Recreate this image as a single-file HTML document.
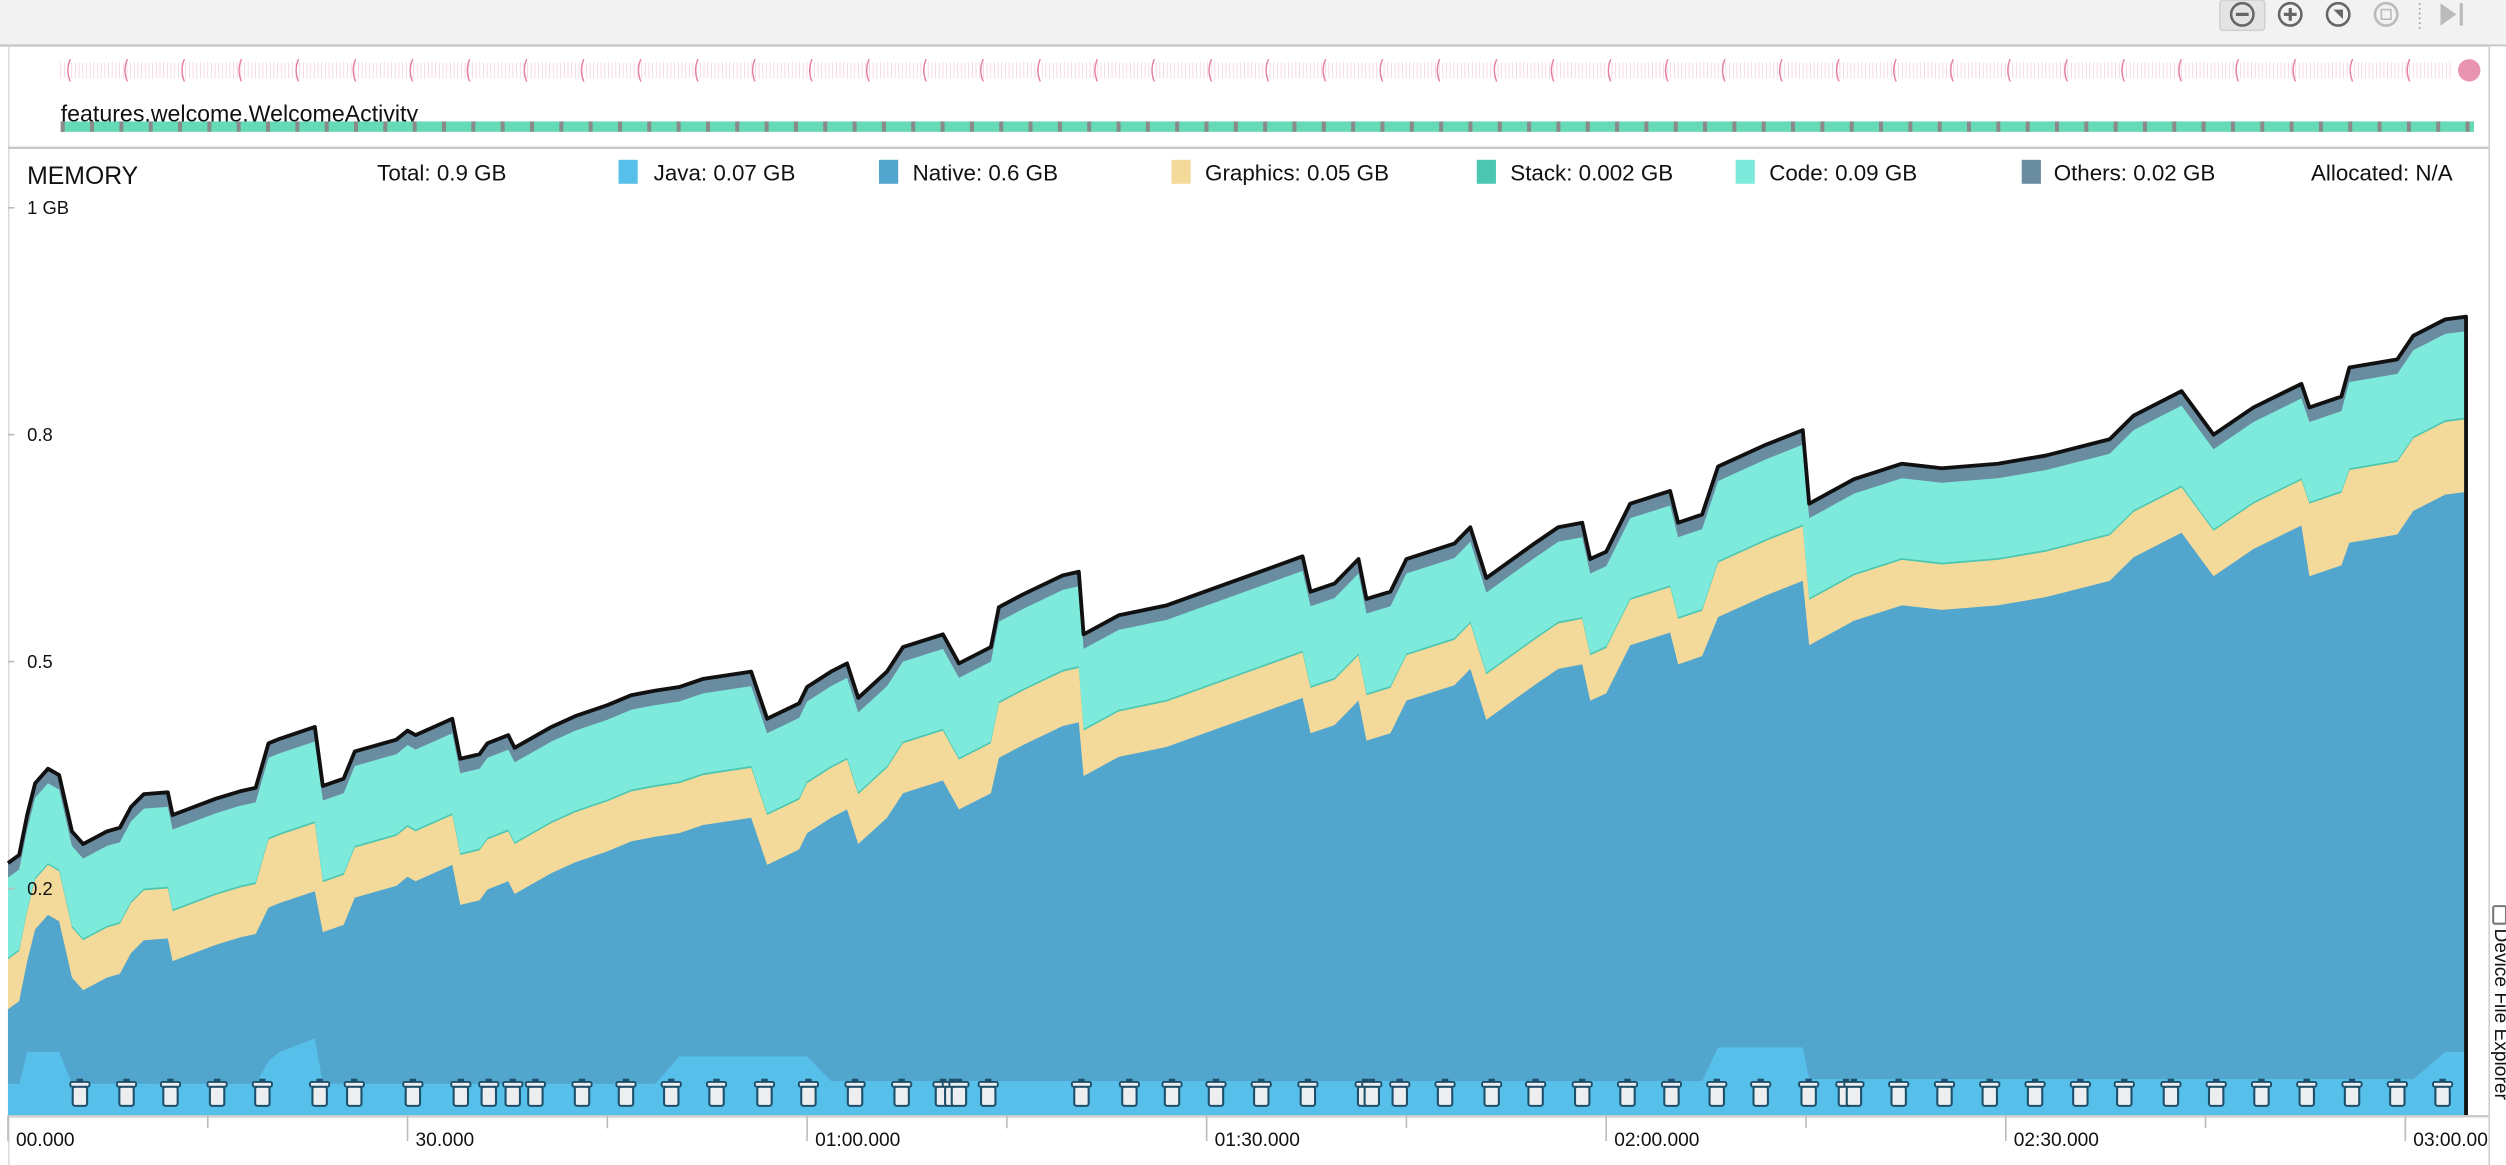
<!DOCTYPE html>
<html><head><meta charset="utf-8"><style>
html,body{margin:0;padding:0;background:#fff;overflow:hidden}
svg{display:block;font-family:"Liberation Sans",sans-serif}
</style></head><body>
<svg id="root" width="2506" height="1165" viewBox="0 0 1568 729" preserveAspectRatio="none" xmlns="http://www.w3.org/2000/svg">
<rect x="0" y="0" width="1568" height="28" fill="#f2f2f2"/>
<line x1="0" y1="28.5" x2="1568" y2="28.5" stroke="#c8c8c8" stroke-width="1.5"/>
<g>
<rect x="1389" y="0" width="28" height="19" rx="2" fill="#e4e4e4" stroke="#d0d0d0"/>
<g><circle cx="1403" cy="9" r="7" fill="none" stroke="#666" stroke-width="1.6"/><line x1="1399" y1="9" x2="1407" y2="9" stroke="#666" stroke-width="2"/></g>
<g><circle cx="1433" cy="9" r="7" fill="none" stroke="#666" stroke-width="1.6"/><line x1="1429" y1="9" x2="1437" y2="9" stroke="#666" stroke-width="2"/><line x1="1433" y1="5" x2="1433" y2="13" stroke="#666" stroke-width="2"/></g>
<g><circle cx="1463" cy="9" r="7" fill="none" stroke="#666" stroke-width="1.6"/><path d="M1460 6 L1466 12 L1466 6 Z" fill="#666"/></g>
<g><circle cx="1493" cy="9" r="7" fill="none" stroke="#bbb" stroke-width="1.6"/><rect x="1490" y="6" width="6" height="6" fill="none" stroke="#bbb"/></g>
<line x1="1514" y1="2" x2="1514" y2="18" stroke="#999" stroke-dasharray="1,2"/>
<g><path d="M1527 2 L1537 9 L1527 16 Z" fill="#bbb"/><rect x="1539" y="2" width="2" height="14" fill="#bbb"/></g>
</g>
<line x1="5.5" y1="29" x2="5.5" y2="729" stroke="#dcdcdc"/>
<g id="events"></g>
<circle cx="1545" cy="44" r="7" fill="#e893b0"/>
<text x="38" y="76" font-size="14.5" fill="#111">features.welcome.WelcomeActivity</text>
<g id="activitybar"></g>
<line x1="5" y1="92.5" x2="1557" y2="92.5" stroke="#c8c8c8" stroke-width="1.5"/>
<text x="17" y="115" font-size="15.5" fill="#111">MEMORY</text>
<g font-size="14" fill="#111">
<text x="236" y="113">Total: 0.9 GB</text>
<g><rect x="387" y="100" width="12" height="15" fill="#56bfea"/><text x="409" y="113">Java: 0.07 GB</text></g>
<g><rect x="550" y="100" width="12" height="15" fill="#52a5cc"/><text x="571" y="113">Native: 0.6 GB</text></g>
<g><rect x="733" y="100" width="12" height="15" fill="#f3da9b"/><text x="754" y="113">Graphics: 0.05 GB</text></g>
<g><rect x="924" y="100" width="12" height="15" fill="#4cc7b1"/><text x="945" y="113">Stack: 0.002 GB</text></g>
<g><rect x="1086" y="100" width="12" height="15" fill="#7eeadb"/><text x="1107" y="113">Code: 0.09 GB</text></g>
<g><rect x="1265" y="100" width="12" height="15" fill="#6a8ca0"/><text x="1285" y="113">Others: 0.02 GB</text></g>
<text x="1446" y="113">Allocated: N/A</text>
</g>
<g id="plot"></g>
<g id="yaxis" font-size="11.5" fill="#111"></g>
<g id="xaxis" font-size="12" fill="#111"></g>
<g id="gc"></g>
<rect x="1557" y="29" width="11" height="700" fill="#fff"/>
<line x1="1557.5" y1="29" x2="1557.5" y2="729" stroke="#cfcfcf"/>
<rect x="1560" y="567" width="8" height="11" rx="1" fill="none" stroke="#777" stroke-width="1.3"/>
<text transform="translate(1561,581) rotate(90)" font-size="12" fill="#111">Device File Explorer</text>
</svg>
<script>
const NS='http://www.w3.org/2000/svg';
const times=[0,0.84,1.44,2.04,3.0,3.84,4.8,5.64,7.44,8.4,9.24,10.2,12.0,12.36,15.6,17.4,18.6,19.56,20.4,23.04,23.64,25.2,26.04,29.16,30.0,30.6,33.36,33.96,35.4,36.0,37.56,38.04,40.8,42.6,45.0,46.8,48.6,50.4,52.2,55.8,57.0,59.4,60.0,61.8,63.0,63.84,66.0,67.2,70.2,71.4,73.8,74.4,76.2,79.2,80.4,80.76,83.4,87.0,90.6,94.2,97.2,97.8,99.6,101.4,102.0,103.8,105.0,108.6,109.8,111.0,114.6,116.4,118.2,118.8,120.0,121.8,124.8,125.4,127.2,128.4,132.0,134.76,135.24,138.6,142.2,145.2,149.4,153.0,157.8,159.6,163.2,165.6,168.6,172.2,172.8,175.2,175.8,179.4,180.6,183.0,184.56];
const total=[.278,.287,.331,.366,.382,.375,.313,.299,.313,.317,.340,.354,.356,.331,.349,.357,.361,.410,.415,.428,.363,.371,.401,.414,.424,.419,.437,.393,.398,.410,.419,.405,.428,.440,.452,.463,.468,.472,.481,.489,.437,.454,.472,.489,.498,.460,.489,.516,.530,.498,.516,.560,.574,.595,.599,.530,.551,.562,.581,.600,.616,.577,.586,.613,.569,.577,.613,.630,.648,.592,.630,.648,.653,.613,.621,.674,.688,.653,.662,.715,.739,.755,.674,.701,.718,.713,.718,.727,.745,.771,.798,.750,.780,.806,.780,.792,.824,.833,.859,.877,.880];
const java=[.035,.035,.07,.07,.07,.07,.035,.035,.035,.035,.035,.035,.035,.035,.035,.035,.035,.06,.07,.085,.035,.035,.035,.035,.035,.035,.035,.035,.035,.035,.035,.035,.035,.035,.035,.035,.035,.065,.065,.065,.065,.065,.065,.038,.038,.038,.038,.038,.038,.038,.038,.038,.038,.038,.038,.038,.038,.038,.038,.038,.038,.038,.038,.038,.038,.038,.038,.038,.038,.038,.038,.038,.038,.038,.038,.038,.038,.038,.038,.075,.075,.075,.04,.04,.04,.04,.04,.04,.04,.04,.04,.04,.04,.04,.04,.04,.04,.04,.04,.07,.07];
const graphics=[.055,.055,.055,.055,.055,.055,.055,.055,.055,.055,.055,.055,.055,.055,.055,.055,.055,.075,.075,.075,.055,.055,.055,.055,.055,.055,.055,.055,.055,.055,.055,.055,.055,.055,.055,.055,.055,.055,.055,.055,.055,.055,.055,.055,.055,.055,.055,.055,.055,.055,.055,.06,.06,.06,.06,.05,.05,.05,.05,.05,.05,.05,.05,.05,.05,.05,.05,.05,.05,.05,.05,.05,.05,.05,.05,.05,.05,.05,.05,.06,.06,.06,.05,.05,.05,.05,.05,.05,.05,.05,.05,.05,.05,.05,.08,.08,.08,.08,.08];
const code=[.088,.088,.088,.088,.088,.088,.088,.088,.088,.088,.088,.088,.088,.088,.088,.088,.088,.088,.088,.088,.088,.088,.088,.088,.088,.088,.088,.088,.088,.088,.088,.088,.088,.088,.088,.088,.088,.088,.088,.088,.088,.088,.088,.088,.088,.088,.088,.088,.088,.088,.088,.088,.088,.088,.088,.088,.088,.088,.088,.088,.088,.088,.088,.088,.088,.088,.088,.088,.088,.088,.088,.088,.088,.088,.088,.088,.088,.088,.088,.088,.088,.088,.088,.088,.088,.088,.088,.088,.088,.088,.088,.088,.088,.088,.088,.088,.095,.095,.095,.095,.095];
const others=[.016,.016,.016,.016,.016,.016,.016,.016,.016,.016,.016,.016,.016,.016,.016,.016,.016,.016,.016,.016,.016,.016,.016,.016,.016,.016,.016,.016,.016,.016,.016,.016,.016,.016,.016,.016,.016,.016,.016,.016,.016,.016,.016,.016,.016,.016,.016,.016,.016,.016,.016,.016,.016,.016,.016,.016,.016,.016,.016,.016,.016,.016,.016,.016,.016,.016,.016,.016,.016,.016,.016,.016,.016,.016,.016,.016,.016,.016,.016,.016,.016,.016,.016,.016,.016,.016,.016,.016,.016,.016,.016,.016,.016,.016,.016,.016,.016,.016,.016,.016,.016];
const stackMem=0.002;
const gcTimes=[5.4,8.9,12.2,15.7,19.1,23.4,26.0,30.4,34.0,36.1,37.9,39.6,43.1,46.4,49.8,53.2,56.8,60.1,63.6,67.1,70.2,70.9,71.4,73.6,80.6,84.2,87.4,90.7,94.1,97.6,101.9,102.4,104.5,107.9,111.4,114.7,118.2,121.6,124.9,128.3,131.6,135.2,138.0,138.6,141.96,145.4,148.8,152.2,155.6,158.9,162.4,165.8,169.2,172.6,176.0,179.4,182.8];
const yTickVals=[1,0.75,0.5,0.25];
const yTickLabels=['1 GB','0.8','0.5','0.2'];
const xTickVals=[0,30,60,90,120,150,180];
const xTickLabels=['00.000','30.000','01:00.000','01:30.000','02:00.000','02:30.000','03:00.000'];

const X0=5,PXS=125/15,YB=698,PXG=568;
const xs=t=>X0+t*PXS;
const ys=v=>YB-v*PXG;
function mk(tag,attrs,parent){const e=document.createElementNS(NS,tag);for(const k in attrs)e.setAttribute(k,attrs[k]);parent.appendChild(e);return e;}
function val(a,i){const v=a[Math.min(i,a.length-1)];return (typeof v==='number'&&isFinite(v))?v:0;}

const n=Math.min(times.length,total.length);
// cumulative tops (from total downward)
const topOthers=[],topCode=[],topStack=[],topGraphics=[],topNative=[],topJava=[];
for(let i=0;i<n;i++){
  const t=val(total,i);
  topOthers.push(t);
  topCode.push(t-val(others,i));
  topStack.push(topCode[i]-val(code,i));
  topGraphics.push(topStack[i]-stackMem);
  topNative.push(topGraphics[i]-val(graphics,i));
  topJava.push(val(java,i));
}
const layers=[
  {name:'others',top:topOthers,color:'#6a8ca0'},
  {name:'code',top:topCode,color:'#7eeadb'},
  {name:'stack',top:topStack,color:'#4cc7b1'},
  {name:'graphics',top:topGraphics,color:'#f3da9b'},
  {name:'native',top:topNative,color:'#52a5cc'},
  {name:'java',top:topJava,color:'#56bfea'}
];
const plot=document.getElementById('plot');
const endX=xs(times[n-1]);
layers.forEach(L=>{
  let d='M'+xs(times[0]).toFixed(2)+' '+YB;
  for(let i=0;i<n;i++)d+=' L'+xs(times[i]).toFixed(2)+' '+ys(L.top[i]).toFixed(2);
  d+=' L'+endX.toFixed(2)+' '+YB+' Z';
  const p=mk('path',{d:d,fill:L.color},plot);
  
  
});
let td='M'+xs(times[0])+' '+ys(total[0]);
for(let i=1;i<n;i++)td+=' L'+xs(times[i]).toFixed(2)+' '+ys(total[i]).toFixed(2);
td+=' L'+endX+' '+YB;
const tl=mk('path',{d:td,fill:'none',stroke:'#111','stroke-width':2.4,'stroke-linejoin':'round'},plot);



const ya=document.getElementById('yaxis');
yTickVals.forEach((v,i)=>{
  mk('line',{x1:5,y1:ys(v),x2:9,y2:ys(v),stroke:'#bbb'},ya);
  const t=mk('text',{x:17,y:ys(v)+4},ya);t.textContent=yTickLabels[i];
  
  
});
const xa=document.getElementById('xaxis');
mk('line',{x1:5,y1:YB+0.5,x2:1557,y2:YB+0.5,stroke:'#ccc','stroke-width':1.5},xa);
for(let s=0;s<=185;s+=15){mk('line',{x1:xs(s),y1:YB,x2:xs(s),y2:s%30===0?YB+16:YB+8,stroke:'#bbb'},xa);}
xTickVals.forEach((v,i)=>{
  const t=mk('text',{x:xs(v)+5,y:717},xa);t.textContent=xTickLabels[i];
  
  
});
const gc=document.getElementById('gc');
gcTimes.forEach(t=>{
  const x=xs(t);
  const g=mk('g',{},gc);
  
  
  mk('rect',{x:x-4.5,y:680,width:9,height:12,rx:1.5,fill:'#eceef0',stroke:'#1d4f6b','stroke-width':1.3},g);
  mk('rect',{x:x-6,y:677,width:12,height:3,rx:1,fill:'#eceef0',stroke:'#1d4f6b','stroke-width':1.2},g);
  mk('rect',{x:x-2,y:675,width:4,height:2,fill:'#1d4f6b'},g);
});
const ev=document.getElementById('events');
for(let x=38;x<1535;x+=2.3){mk('line',{x1:x,y1:39,x2:x,y2:49,stroke:'#f4d2de','stroke-width':0.5},ev);}
for(let x=42;x<1535;x+=35.7){mk('path',{d:`M${x+2} 37 Q${x-1} 44 ${x+2} 51`,fill:'none',stroke:'#e57fa6','stroke-width':0.9},ev);}
const ab=document.getElementById('activitybar');
mk('rect',{x:38,y:76,width:1510,height:6.5,fill:'#66d9b7'},ab);
for(let x=38;x<1548;x+=18.35){mk('rect',{x:x,y:76,width:2.5,height:6.5,fill:'#8a8a8a'},ab);}
</script>
</body></html>
